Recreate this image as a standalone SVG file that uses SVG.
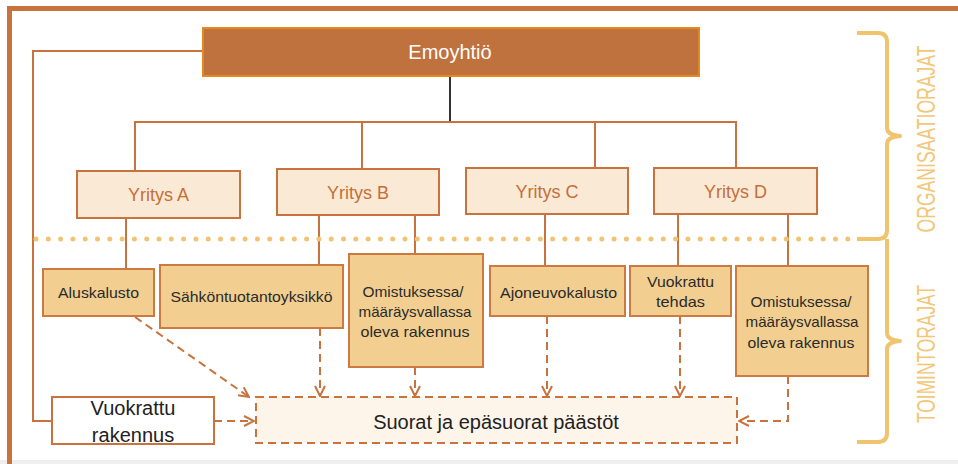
<svg xmlns="http://www.w3.org/2000/svg" width="958" height="464" viewBox="0 0 958 464">
<defs>
<style>
.frame{fill:none;stroke:#C8733D;stroke-width:5}
.line{fill:none;stroke:#C8733D;stroke-width:2}
.dash{fill:none;stroke:#C8733D;stroke-width:2;stroke-dasharray:8 5}
.l1{fill:#F9E9D5;stroke:#C8733D;stroke-width:2}
.l2{fill:#F2CF90;stroke:#CC7A40;stroke-width:2}
.t1{font-family:"Liberation Sans",Arial,sans-serif;font-size:18px;fill:#C56F38;text-anchor:middle}
.t2{font-family:"Liberation Sans",Arial,sans-serif;font-size:15px;fill:#2A2A2A;text-anchor:middle}
.t3{font-family:"Liberation Sans",Arial,sans-serif;font-size:20px;fill:#222;text-anchor:middle}
.brace{fill:none;stroke:#F0C46E;stroke-width:4;stroke-linejoin:round}
.side{font-family:"Liberation Sans",Arial,sans-serif;font-size:26px;fill:#F3C77A;text-anchor:middle}
</style>
<marker id="arr" viewBox="0 0 12 12" refX="11" refY="6" markerWidth="12" markerHeight="12" markerUnits="userSpaceOnUse" orient="auto">
<path d="M1,1 L11,6 L1,11" fill="none" stroke="#C8733D" stroke-width="2"/>
</marker>
</defs>
<rect x="0" y="0" width="958" height="464" fill="#FFFFFF"/>
<rect x="0" y="460" width="958" height="4" fill="#EEEEEE"/>
<path class="frame" d="M9.5,464 V8.5 H958"/>

<g id="connectors">
<path d="M450,76 V122" fill="none" stroke="#333" stroke-width="2"/>
<path class="line" d="M135,171 V122 H736 V168"/>
<path class="line" d="M362,122 V169"/>
<path class="line" d="M595,122 V168"/>
<path class="line" d="M203,51 H33 V421 H52"/>
<path class="line" d="M126,218 V269"/>
<path class="line" d="M319,215 V265"/>
<path class="line" d="M415,215 V254"/>
<path class="line" d="M545,214 V266"/>
<path class="line" d="M678,214 V266"/>
<path class="line" d="M788,214 V266"/>
<line x1="36" y1="239" x2="857" y2="239" stroke="#F0C474" stroke-width="5" stroke-linecap="round" stroke-dasharray="0 12.3"/>
<path class="dash" d="M135,317 L249,397" marker-end="url(#arr)"/>
<path class="dash" d="M214,421 H254" marker-end="url(#arr)"/>
<path class="dash" d="M320,328 V396" marker-end="url(#arr)"/>
<path class="dash" d="M415,367 V396" marker-end="url(#arr)"/>
<path class="dash" d="M547,316 V396" marker-end="url(#arr)"/>
<path class="dash" d="M680,316 V396" marker-end="url(#arr)"/>
<path class="dash" d="M788,376 V421 H739" marker-end="url(#arr)"/>
</g>

<g id="emoyhtio">
<rect x="203" y="28" width="496" height="48" fill="#BF723D" stroke="#E3891F" stroke-width="2"/>
<text x="450" y="59" font-family="'Liberation Sans',Arial,sans-serif" font-size="20" fill="#FFFFFF" text-anchor="middle">Emoyhtiö</text>
</g>

<g id="yritys-a"><rect class="l1" x="77" y="171" width="163" height="47"/><text class="t1" x="158.5" y="201">Yritys A</text></g>
<g id="yritys-b"><rect class="l1" x="277" y="169" width="162" height="46"/><text class="t1" x="358" y="199">Yritys B</text></g>
<g id="yritys-c"><rect class="l1" x="466" y="168" width="162" height="46"/><text class="t1" x="547" y="198">Yritys C</text></g>
<g id="yritys-d"><rect class="l1" x="654" y="168" width="163" height="46"/><text class="t1" x="735.5" y="198">Yritys D</text></g>

<g id="aluskalusto"><rect class="l2" x="43" y="269" width="111" height="47"/><text class="t2" x="98.5" y="298" textLength="81" lengthAdjust="spacingAndGlyphs">Aluskalusto</text></g>
<g id="sahko"><rect class="l2" x="160" y="265" width="183" height="63"/><text class="t2" x="251.5" y="302" textLength="162" lengthAdjust="spacingAndGlyphs">Sähköntuotantoyksikkö</text></g>
<g id="omistus-b"><rect class="l2" x="349" y="254" width="134" height="113"/>
<text class="t2" x="413" y="297" textLength="101" lengthAdjust="spacingAndGlyphs">Omistuksessa/</text>
<text class="t2" x="415" y="317" textLength="113" lengthAdjust="spacingAndGlyphs">määräysvallassa</text>
<text class="t2" x="415" y="337" textLength="109" lengthAdjust="spacingAndGlyphs">oleva rakennus</text></g>
<g id="ajoneuvo"><rect class="l2" x="490" y="266" width="135" height="50"/><text class="t2" x="558.5" y="298" textLength="117" lengthAdjust="spacingAndGlyphs">Ajoneuvokalusto</text></g>
<g id="vuokrattu-tehdas"><rect class="l2" x="630" y="266" width="101" height="50"/>
<text class="t2" x="680.5" y="287" textLength="67" lengthAdjust="spacingAndGlyphs">Vuokrattu</text>
<text class="t2" x="680.5" y="307" textLength="49" lengthAdjust="spacingAndGlyphs">tehdas</text></g>
<g id="omistus-d"><rect class="l2" x="736" y="266" width="132" height="110"/>
<text class="t2" x="801" y="307" textLength="101" lengthAdjust="spacingAndGlyphs">Omistuksessa/</text>
<text class="t2" x="802" y="327" textLength="113" lengthAdjust="spacingAndGlyphs">määräysvallassa</text>
<text class="t2" x="801" y="348" textLength="107" lengthAdjust="spacingAndGlyphs">oleva rakennus</text></g>

<g id="vuokrattu-rakennus"><rect x="52" y="397" width="162" height="47" fill="#FFFFFF" stroke="#C8733D" stroke-width="2"/>
<text class="t3" x="133" y="415">Vuokrattu</text>
<text class="t3" x="133" y="442">rakennus</text></g>

<g id="paastot"><rect x="256" y="397" width="481" height="46" fill="#FDF5EA" stroke="#C8733D" stroke-width="2" stroke-dasharray="8 5"/>
<text class="t3" x="496" y="429">Suorat ja epäsuorat päästöt</text></g>

<g id="organisaatiorajat">
<path class="brace" d="M857,33 H878 Q887,33 887,42 V128 Q887,135 900,136 Q887,137 887,144 V230 Q887,239 878,239 H857"/>
<text class="side" transform="translate(935,139) rotate(-90)" textLength="187" lengthAdjust="spacingAndGlyphs">ORGANISAATIORAJAT</text>
</g>
<g id="toimintorajat">
<path class="brace" d="M887,239 V333 Q887,340 900,341 Q887,342 887,349 V433 Q887,442 878,442 H857"/>
<text class="side" transform="translate(935,354) rotate(-90)" textLength="138" lengthAdjust="spacingAndGlyphs">TOIMINTORAJAT</text>
</g>
</svg>
